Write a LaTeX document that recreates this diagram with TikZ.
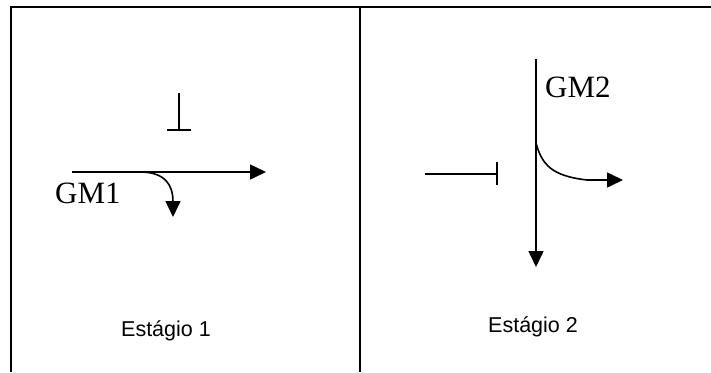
\documentclass[tikz,border=0pt]{standalone}
\usepackage{fontspec}
\setmainfont{Liberation Sans}
\newfontfamily\gmfont{Liberation Serif}
\usetikzlibrary{arrows.meta}
\begin{document}
\begin{tikzpicture}[x=1pt,y=-1pt,
  frame/.style={line width=2pt,black},
  conn/.style={line width=1.6pt,black},
  arr/.style={conn,-{Triangle[length=16pt,width=15pt]}},
  gm/.style={font=\gmfont\fontsize{31}{31}\selectfont,inner sep=0pt,anchor=base west},
  stage/.style={font=\fontsize{21.5}{21.5}\selectfont,inner sep=0pt,anchor=base}]
\useasboundingbox (0,0) rectangle (711,372);
% table frame
\coordinate (tl) at (11,7);
\coordinate (tr) at (711,7);
\coordinate (bl) at (11,372);
\coordinate (tm) at (360,7);
\coordinate (bm) at (360,372);
\draw[frame] (tr) -- (tl) -- (bl);
\draw[frame] (tm) -- (bm);
% stage 1
\coordinate (b1top) at (179,93);
\coordinate (b1bot) at (179,130);
\coordinate (b1l) at (167,130);
\coordinate (b1r) at (191,130);
\draw[conn] (b1top) -- (b1bot);
\draw[conn] (b1l) -- (b1r);
\coordinate (h1s) at (72,172);
\coordinate (h1e) at (266,172);
\draw[arr] (h1s) -- (h1e);
\coordinate (c1s) at (140,172);
\coordinate (c1e) at (173,217);
\draw[arr] (c1s) .. controls (166,172) and (173,186) .. (c1e);
\node[gm] (gm1) at (55,203) {GM1};
\node[stage] (st1) at (166,336) {Estágio 1};
% stage 2
\coordinate (v2s) at (536,59);
\coordinate (v2e) at (536,267);
\draw[arr] (v2s) -- (v2e);
\coordinate (h2s) at (425,174);
\coordinate (h2e) at (497,174);
\coordinate (bar2t) at (497,162);
\coordinate (bar2b) at (497,185);
\draw[conn] (h2s) -- (h2e);
\draw[conn] (bar2t) -- (bar2b);
\coordinate (c2s) at (536,143);
\coordinate (c2m) at (587,180);
\coordinate (c2e) at (623,180);
\draw[arr] (c2s) .. controls (542,165) and (552,176) .. (c2m) -- (c2e);
\node[gm] (gm2) at (545,97) {GM2};
\node[stage] (st2) at (533,332) {Estágio 2};
\end{tikzpicture}
\end{document}
